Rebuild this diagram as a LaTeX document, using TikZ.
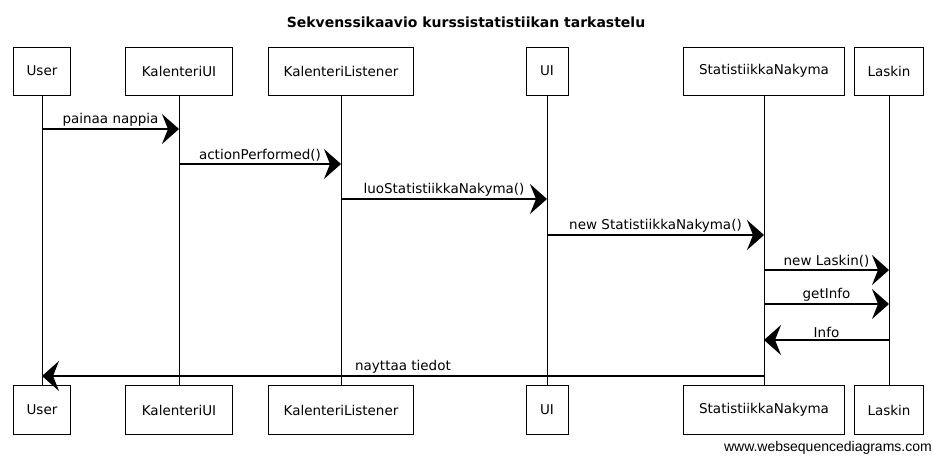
\documentclass[tikz,border=0pt]{standalone}
\usepackage{fontspec}
\setmainfont{Liberation Sans}
\newfontfamily\hand{DejaVu Sans}
\usetikzlibrary{arrows.meta}
\begin{document}
\begin{tikzpicture}[x=1pt,y=-1pt,
  actor/.style={draw,line width=0.9pt,inner sep=0pt,font=\hand\fontsize{13.5}{15}\selectfont,minimum height=48pt},
  life/.style={line width=0.8pt},
  msg/.style={line width=1.2pt,-{Stealth[length=17pt,width=30pt,inset=6pt]}},
  lbl/.style={font=\hand\fontsize{13.5}{15}\selectfont,above,inner sep=2pt}]
\useasboundingbox (0,0) rectangle (933,456);
\fill[white] (0,0) rectangle (933,456);
\node[font=\hand\bfseries\fontsize{14}{16}\selectfont] (title) at (466,22) {Sekvenssikaavio kurssistatistiikan tarkastelu};
% top actors
\node[actor,minimum width=57pt] (tU) at (42,71) {User};
\node[actor,minimum width=107pt] (tK) at (179,71) {KalenteriUI};
\node[actor,minimum width=145pt] (tL) at (341,71) {KalenteriListener};
\node[actor,minimum width=42pt] (tI) at (547,71) {UI};
\node[actor,minimum width=161pt] (tS) at (764,71) {StatistiikkaNakyma};
\node[actor,minimum width=69pt] (tA) at (889,71) {Laskin};
% bottom actors
\node[actor,minimum width=57pt,minimum height=49pt] (bU) at (42,410) {User};
\node[actor,minimum width=107pt,minimum height=49pt] (bK) at (179,410) {KalenteriUI};
\node[actor,minimum width=145pt,minimum height=49pt] (bL) at (341,410) {KalenteriListener};
\node[actor,minimum width=42pt,minimum height=49pt] (bI) at (547,410) {UI};
\node[actor,minimum width=161pt,minimum height=49pt] (bS) at (764,410) {StatistiikkaNakyma};
\node[actor,minimum width=69pt,minimum height=49pt] (bA) at (889,410) {Laskin};
% lifelines
\foreach \n in {U,K,L,I,S,A} \draw[life] (t\n.south) -- (b\n.north);
% messages
\draw[msg] (tU |- 0,129) -- node[lbl]{painaa nappia} (tK |- 0,129);
\draw[msg] (tK |- 0,164) -- node[lbl]{actionPerformed()} (tL |- 0,164);
\draw[msg] (tL |- 0,199) -- node[lbl]{luoStatistiikkaNakyma()} (tI |- 0,199);
\draw[msg] (tI |- 0,235) -- node[lbl]{new StatistiikkaNakyma()} (tS |- 0,235);
\draw[msg] (tS |- 0,270) -- node[lbl]{new Laskin()} (tA |- 0,270);
\draw[msg] (tS |- 0,304) -- node[lbl]{getInfo} (tA |- 0,304);
\draw[msg] (tA |- 0,340) -- node[lbl]{Info} (tS |- 0,340);
\draw[msg] (tS |- 0,376) -- node[lbl]{nayttaa tiedot} (tU |- 0,376);
\node[anchor=east,font=\fontsize{14}{16}\selectfont,inner sep=0pt] (wm) at (932,448) {www.websequencediagrams.com};
\end{tikzpicture}
\end{document}
